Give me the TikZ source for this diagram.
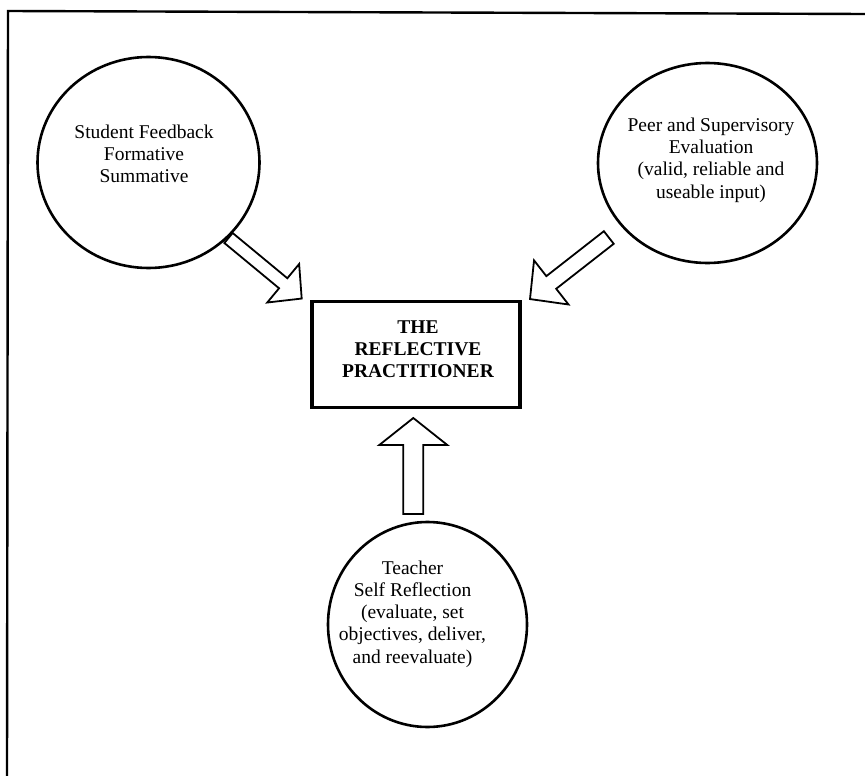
\documentclass[tikz,border=0pt]{standalone}
\usepackage{fontspec}
\setmainfont{Liberation Serif}
\usetikzlibrary{shapes.geometric}
\tikzset{
  bubble/.style={draw, ellipse, line width=2.6pt, inner sep=0pt},
  bubbletext/.style={align=center, font=\fontsize{19.5}{22.3}\selectfont, inner sep=0pt},
  centrebox/.style={draw, rectangle, line width=3.6pt, minimum width=208pt, minimum height=106pt, inner sep=0pt},
  boxtext/.style={align=center, font=\fontsize{19.5}{22}\selectfont\bfseries, inner sep=0pt},
  frameline/.style={line width=2.4pt},
  arrowline/.style={draw, line width=1.8pt, line join=miter, fill=white},
  pics/blockarrow/.style args={#1/#2/#3/#4}{code={
    \path[arrowline] (0,-#1) -- (#3,-#1) -- (#3,-#2) -- (#4,0) -- (#3,#2) -- (#3,#1) -- (0,#1) -- cycle;}}
}
\begin{document}
\begin{tikzpicture}[x=1pt,y=-1pt]
\useasboundingbox (0,0) rectangle (865,776);
% frame (top and left only)
\coordinate (fl) at (8,11);
\coordinate (fr) at (865,14);
\coordinate (fb) at (7,776);
\draw[frameline] (fr) -- (fl) -- (fb);
% bubbles
\node[bubble, minimum width=222pt, minimum height=211pt] (student) at (148.5,162.5) {};
\node[bubbletext] (studenttext) at (144,154) {Student Feedback\\Formative\\Summative};
\node[bubble, minimum width=219pt, minimum height=200pt] (peer) at (707.5,163) {};
\node[bubbletext] (peertext) at (711,160) {Peer and Supervisory\\Evaluation\\(valid, reliable and\\useable input)};
\node[bubble, minimum width=199pt, minimum height=205pt] (teacher) at (427.5,624.5) {};
\node[bubbletext] (teachertext) at (412.5,614) {Teacher\\Self Reflection\\(evaluate, set\\objectives, deliver,\\and reevaluate)};
% centre box
\node[centrebox] (centre) at (416,354.5) {};
\node[boxtext] (centretext) at (418,349) {THE\\REFLECTIVE\\PRACTITIONER};
% block arrows
\coordinate (la) at (228.5,238);
\coordinate (ra) at (608.8,237.5);
\coordinate (ba) at (413.3,514);
\pic[rotate=-39.6] at (la) {blockarrow=6.5/25/71/95};
\pic[rotate=-142] at (ra) {blockarrow=8/28/73/100};
\pic[rotate=90] at (ba) {blockarrow=10/34/69/96};
\end{tikzpicture}
\end{document}
